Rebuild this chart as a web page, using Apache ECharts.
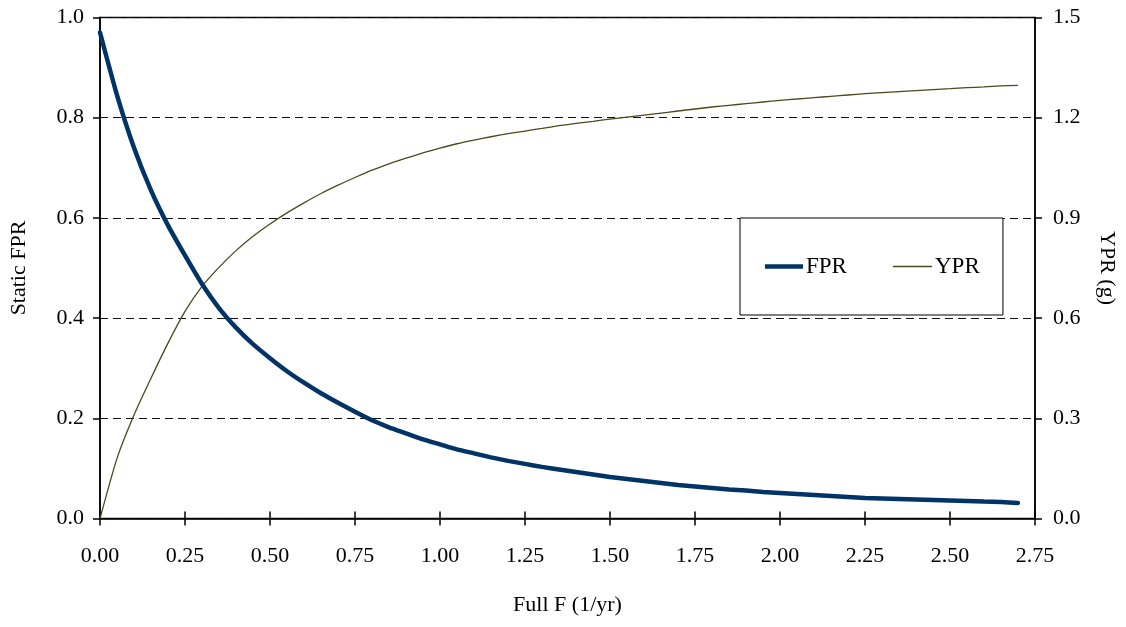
<!DOCTYPE html>
<html>
<head>
<meta charset="utf-8">
<script src="https://cdn.jsdelivr.net/npm/echarts@6/dist/echarts.min.js"></script>
<style>
html,body{margin:0;padding:0;background:#fff;}
#chart{width:1126px;height:627px;}
</style>
</head>
<body>
<div id="chart"></div>
<script>
// Full F (1/yr)
const fullF = [0.00,0.05,0.10,0.15,0.20,0.25,0.30,0.35,0.40,0.45,0.50,0.55,0.60,0.65,0.70,0.75,0.80,0.85,0.90,0.95,
  1.00,1.05,1.10,1.15,1.20,1.25,1.30,1.35,1.40,1.45,1.50,1.55,1.60,1.65,1.70,1.75,1.80,1.85,1.90,1.95,
  2.00,2.05,2.10,2.15,2.20,2.25,2.30,2.35,2.40,2.45,2.50,2.55,2.60,2.65,2.70];
// Static FPR
const fprValues = [0.970,0.845,0.740,0.655,0.585,0.525,0.468,0.420,0.381,0.348,0.320,0.294,0.271,0.250,0.231,0.213,0.196,0.182,0.170,0.158,
  0.148,0.138,0.130,0.122,0.115,0.109,0.103,0.098,0.093,0.088,0.083,0.079,0.075,0.071,0.067,0.064,0.061,0.058,0.056,0.053,
  0.051,0.049,0.047,0.045,0.043,0.041,0.040,0.039,0.038,0.037,0.036,0.035,0.034,0.033,0.031];
// YPR (g)
const yprValues = [0.000,0.180,0.310,0.420,0.525,0.620,0.695,0.752,0.802,0.845,0.882,0.915,0.945,0.973,0.998,1.021,1.043,1.062,1.079,1.095,
  1.109,1.122,1.133,1.143,1.152,1.160,1.168,1.176,1.183,1.189,1.196,1.202,1.208,1.214,1.220,1.226,1.232,1.237,1.242,1.247,
  1.252,1.256,1.260,1.264,1.268,1.272,1.275,1.278,1.281,1.284,1.287,1.290,1.292,1.295,1.297];

const fprData = fullF.map((f,i)=>[f,fprValues[i]]);
const yprData = fullF.map((f,i)=>[f,yprValues[i]]);

const FONT = '"Liberation Serif","DejaVu Serif",serif';
const txt = {fontFamily: FONT, fontSize: 22, color: '#000'};
const legendText = {fontFamily: FONT, fontSize: 23, color: '#000', padding: [0,0,0,-2]};

const chart = echarts.init(document.getElementById('chart'), null, {renderer:'canvas'});
chart.setOption({
  animation: false,
  backgroundColor: '#fff',
  grid: {left: 100, right: 87, top: 17.5, bottom: 108.5, show: true, borderColor: '#000', borderWidth: 1.5, backgroundColor: 'transparent'},
  legend: [{
    left: 740, top: 218,
    padding: [37, 156, 37, 25],
    itemWidth: 38, itemHeight: 4.5, icon: 'rect',
    borderColor: '#000', borderWidth: 1, backgroundColor: '#fff',
    textStyle: legendText,
    data: ['FPR']
  }, {
    left: 893, top: 255,
    padding: 0,
    itemWidth: 39, itemHeight: 1.3, icon: 'rect',
    textStyle: legendText,
    data: ['YPR'], z: 5
  }],
  xAxis: [{
    type: 'value', min: 0, max: 2.75, interval: 0.25,
    name: 'Full F (1/yr)', nameLocation: 'middle', nameGap: 76,
    nameTextStyle: txt,
    axisLine: {show: true, onZero: false, lineStyle: {color: '#000', width: 1.5}},
    axisTick: {show: true, inside: false, length: 7, lineStyle: {color: '#000', width: 1.5}},
    axisLabel: Object.assign({margin: 27, formatter: v => v.toFixed(2)}, txt),
    splitLine: {show: false}
  }, {
    type: 'value', min: 0, max: 2.75, interval: 0.25, position: 'bottom',
    axisLine: {show: false}, axisLabel: {show: false}, splitLine: {show: false},
    axisTick: {show: true, inside: true, length: 7, lineStyle: {color: '#000', width: 1.5}}
  }],
  yAxis: [{
    type: 'value', min: 0, max: 1, interval: 0.2, position: 'left',
    name: 'Static FPR', nameLocation: 'middle', nameGap: 70,
    nameTextStyle: txt,
    axisLine: {show: true, onZero: false, lineStyle: {color: '#000', width: 1.5}},
    axisTick: {show: true, inside: false, length: 7, lineStyle: {color: '#000', width: 1.5}},
    axisLabel: Object.assign({margin: 16, formatter: v => v.toFixed(1)}, txt),
    splitLine: {show: true, lineStyle: {color: '#111', width: 1, type: [8, 5]}}
  }, {
    type: 'value', min: 0, max: 1.5, interval: 0.3, position: 'right',
    name: 'YPR (g)', nameLocation: 'middle', nameGap: 61, nameRotate: -90,
    nameTextStyle: txt,
    axisLine: {show: true, onZero: false, lineStyle: {color: '#000', width: 1.5}},
    axisTick: {show: true, inside: false, length: 7, lineStyle: {color: '#000', width: 1.5}},
    axisLabel: Object.assign({margin: 18, formatter: v => v.toFixed(1)}, txt),
    splitLine: {show: false}
  }, {
    type: 'value', min: 0, max: 1.5, interval: 0.3, position: 'right',
    axisLine: {show: false}, axisLabel: {show: false}, splitLine: {show: false},
    axisTick: {show: true, inside: true, length: 7, lineStyle: {color: '#000', width: 1.5}}
  }],
  series: [{
    name: 'FPR', type: 'line', xAxisIndex: 0, yAxisIndex: 0,
    data: fprData, showSymbol: false, symbol: 'none', smooth: 0.2,
    lineStyle: {color: '#003366', width: 4.5, cap: 'round'},
    itemStyle: {color: '#003366'}, z: 3
  }, {
    name: 'YPR', type: 'line', xAxisIndex: 0, yAxisIndex: 1,
    data: yprData, showSymbol: false, symbol: 'none', smooth: 0.2,
    lineStyle: {color: '#4a4a1c', width: 1.3},
    itemStyle: {color: '#4a4a1c'}, z: 2
  }]
});
</script>
</body>
</html>
